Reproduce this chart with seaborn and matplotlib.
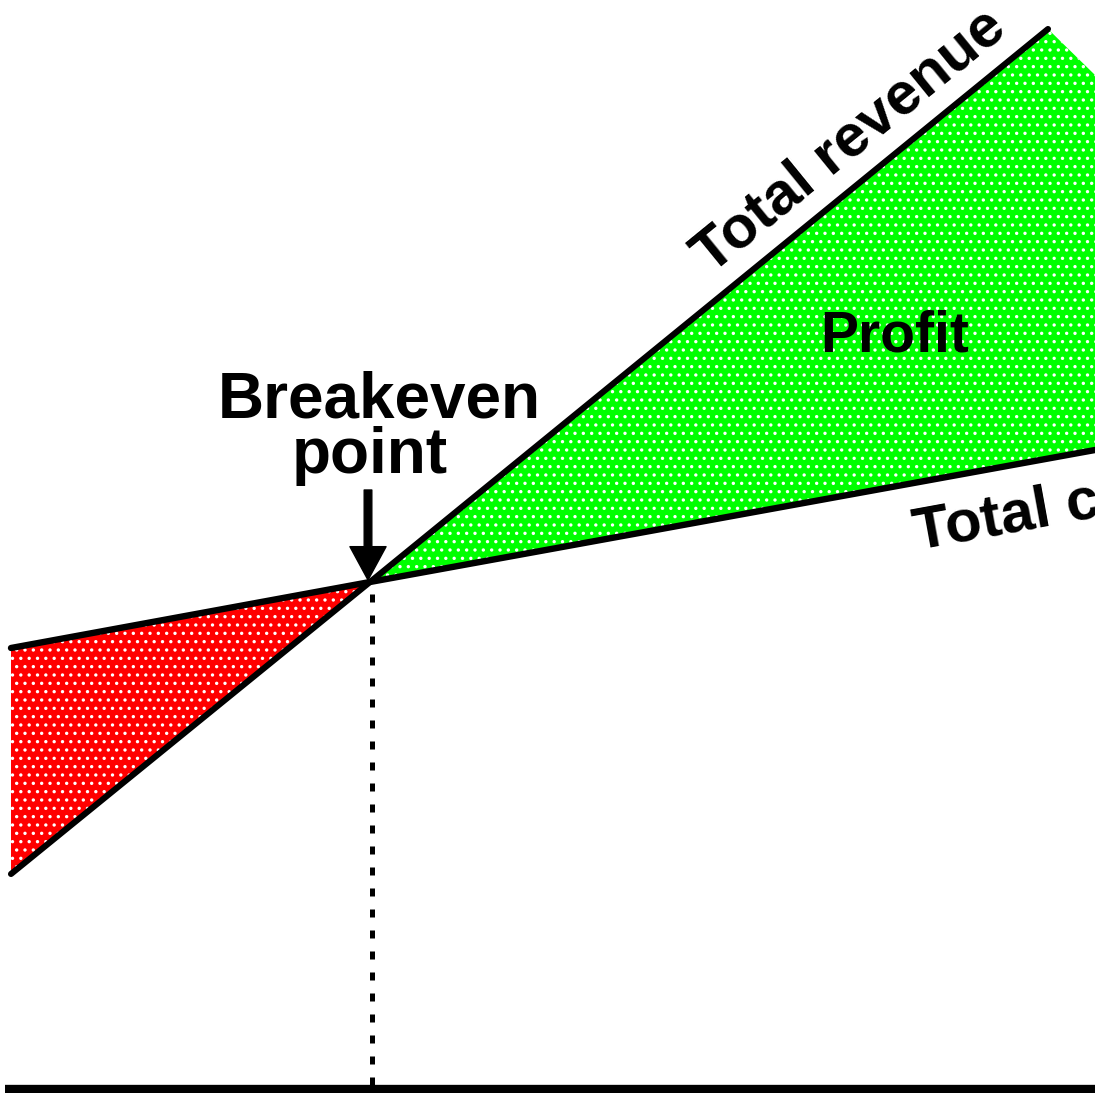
import numpy as np
import pandas as pd
import matplotlib
matplotlib.use("Agg")
import matplotlib.pyplot as plt
import seaborn as sns

# ---- data (abstract units) ----
quantity = [11, 370, 1048]
revenue = [219, 511, 1064]
cost_quantity = [11, 370, 1095]
cost = [445, 511, 643]
profit_edge_q = [1048, 1095]
profit_edge_v = [1064, 1018]
breakeven_q = 370
breakeven_v = 511
axis_level = 4

sns.set_theme(style="white")
plt.rcParams["font.family"] = ["Liberation Sans", "DejaVu Sans"]
plt.rcParams["hatch.linewidth"] = 1.2

fig = plt.figure(figsize=(10.95, 10.93), dpi=100)
ax = fig.add_axes([0, 0, 1, 1])
ax.set_xlim(0, 1095)
ax.set_ylim(0, 1093)
ax.axis("off")

# fills
xs_loss = np.linspace(quantity[0], breakeven_q, 200)
rev_loss = np.interp(xs_loss, quantity, revenue)
cost_loss = np.interp(xs_loss, cost_quantity, cost)
ax.fill_between(xs_loss, rev_loss, cost_loss, facecolor="#ff0000",
                edgecolor="white", hatch="..", linewidth=0, zorder=1)

xs_prof = np.linspace(breakeven_q, 1095, 400)
upper_q = quantity + profit_edge_q[1:]
upper_v = revenue + profit_edge_v[1:]
rev_prof = np.interp(xs_prof, upper_q, upper_v)
cost_prof = np.interp(xs_prof, cost_quantity, cost)
ax.fill_between(xs_prof, cost_prof, rev_prof, facecolor="#00ff00",
                edgecolor="white", hatch="..", linewidth=0, zorder=1)

# lines via seaborn
df_rev = pd.DataFrame({"q": quantity, "v": revenue})
df_cost = pd.DataFrame({"q": cost_quantity, "v": cost})
sns.lineplot(data=df_rev, x="q", y="v", ax=ax, color="black", lw=4.4,
             sort=False, zorder=3)
sns.lineplot(data=df_cost, x="q", y="v", ax=ax, color="black", lw=4.6,
             sort=False, zorder=3)
ax.set_xlabel("")
ax.set_ylabel("")

# dotted vertical from breakeven to axis
ax.plot([breakeven_q + 2, breakeven_q + 2], [breakeven_v - 12, axis_level + 4],
        color="black", lw=3.6, linestyle=(0, (1.6, 2.6)), zorder=2)

# x axis
ax.plot([5, 1095], [axis_level, axis_level], color="black", lw=6, solid_capstyle="butt",
        zorder=3)

# arrow
ax.annotate("", xy=(breakeven_q - 2, breakeven_v + 2),
            xytext=(breakeven_q - 2, 1093 - 490),
            arrowprops=dict(facecolor="black", edgecolor="black", width=5.5,
                            headwidth=26, headlength=24, shrink=0),
            zorder=4)

# texts
ax.text(379, 1093 - 417, "Breakeven", ha="center", va="baseline",
        fontsize=46, fontweight="bold", color="black")
ax.text(370, 1093 - 473, "point", ha="center", va="baseline",
        fontsize=46, fontweight="bold", color="black")
ax.text(895, 1093 - 352, "Profit", ha="center", va="baseline",
        fontsize=41, fontweight="bold", color="black", zorder=5)

angle_rev = np.degrees(np.arctan((revenue[2] - revenue[0]) / (quantity[2] - quantity[0])))
ax.text(860, 940, "Total revenue", ha="center", va="baseline", rotation=angle_rev,
        rotation_mode="anchor", fontsize=43, fontweight="bold", color="black")

angle_cost = np.degrees(np.arctan((cost[2] - cost[0]) / (cost_quantity[2] - cost_quantity[0])))
ax.text(917, 1093 - 550, "Total cost", ha="left", va="baseline", rotation=angle_cost,
        rotation_mode="anchor", fontsize=43, fontweight="bold", color="black")

fig.savefig("out.png", dpi=100)
